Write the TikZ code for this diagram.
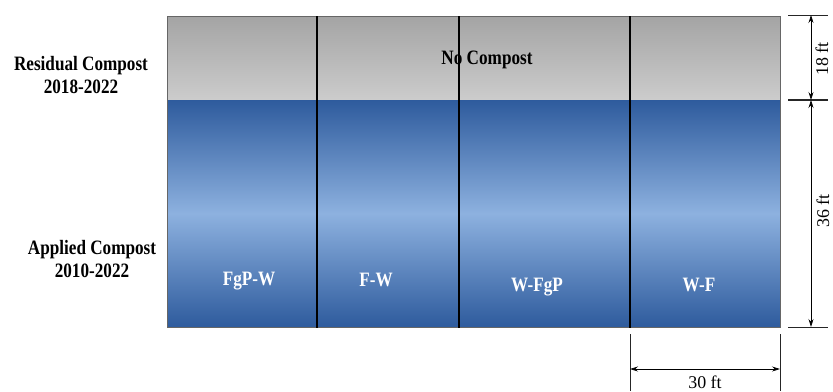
\documentclass[tikz,border=0pt]{standalone}
\usepackage{fontspec}
\setmainfont[FakeStretch=0.84]{Liberation Serif}
\newfontfamily\cotafont{Liberation Serif}
\usetikzlibrary{arrows.meta, positioning, calc}
\definecolor{cinzaTopo}{RGB}{164,164,164}
\definecolor{cinzaBase}{RGB}{204,204,204}
\definecolor{azulEscuro}{RGB}{46,91,157}
\definecolor{azulClaro}{RGB}{141,177,223}
\tikzset{
  rotulo/.style={font=\fontsize{20.5}{24}\selectfont\bfseries, align=center, inner sep=0pt},
  parcela/.style={font=\fontsize{20.5}{22}\selectfont\bfseries, text=white, inner sep=0pt},
  divisa/.style={black, line width=1.1pt},
  cota/.style={{Stealth[length=8pt,width=5pt]}-{Stealth[length=8pt,width=5pt]}, line width=0.8pt},
  marca/.style={line width=0.7pt, black!85},
  medida/.style={font=\cotafont\fontsize{18}{20}\selectfont, inner sep=0pt}
}

\begin{document}
\begin{tikzpicture}[x=1bp, y=-1bp]
\useasboundingbox (0,0) rectangle (833,391);

% cantos do campo
\coordinate (no) at (167,16);
\coordinate (ne) at (780,16);
\coordinate (oe) at (167,100);
\coordinate (le) at (780,100);
\coordinate (so) at (167,327);
\coordinate (se) at (780,327);

% faixas
\shade[top color=cinzaTopo, bottom color=cinzaBase] (no) rectangle (le);
\shade[top color=azulEscuro, bottom color=azulEscuro, middle color=azulClaro] (oe) rectangle (se);
\draw[black!60, line width=0.6pt] (no) rectangle (se);

% textos
\node[rotulo] (residual) at (81,75) {Residual Compost\\2018-2022};
\node[rotulo] (aplicado) at (92,259) {Applied Compost\\2010-2022};
\node[rotulo] (semcomp) at (487,60) {No Compost};
\node[parcela] (fgpw) at (249,281) {FgP-W};
\node[parcela] (fw) at (376,280) {F-W};
\node[parcela] (wfgp) at (537,287) {W-FgP};
\node[parcela] (wf) at (699,285) {W-F};

% divisas entre parcelas
\foreach \x in {317,459,630}
  \draw[divisa] (\x,16) -- (\x,328);

% cotas verticais
\coordinate (t1) at (788,15);
\coordinate (t2) at (788,100);
\coordinate (t3) at (788,327);
\draw[marca] (t1) -- ++(40,0);
\draw[marca, line width=1.2pt] (t2) -- ++(40,0);
\draw[marca] (t3) -- ++(40,0);
\coordinate (a1) at (811,15);
\coordinate (a2) at (811,100);
\coordinate (a3) at (811,327);
\draw[cota] (a1) -- (a2);
\draw[cota] (a2) -- (a3);
\node[medida, rotate=90] (dezoito) at (822,59) {18 ft};
\node[medida, rotate=90] (trintaseis) at (823,211) {36 ft};

% cota horizontal
\coordinate (b1) at (630,334);
\coordinate (b2) at (780,334);
\draw[marca] (b1) -- ++(0,57);
\draw[marca] (b2) -- ++(0,57);
\coordinate (h1) at (630,369);
\coordinate (h2) at (780,369);
\draw[cota] (h1) -- (h2);
\node[medida] (trinta) at (705,382) {30 ft};
\end{tikzpicture}
\end{document}
